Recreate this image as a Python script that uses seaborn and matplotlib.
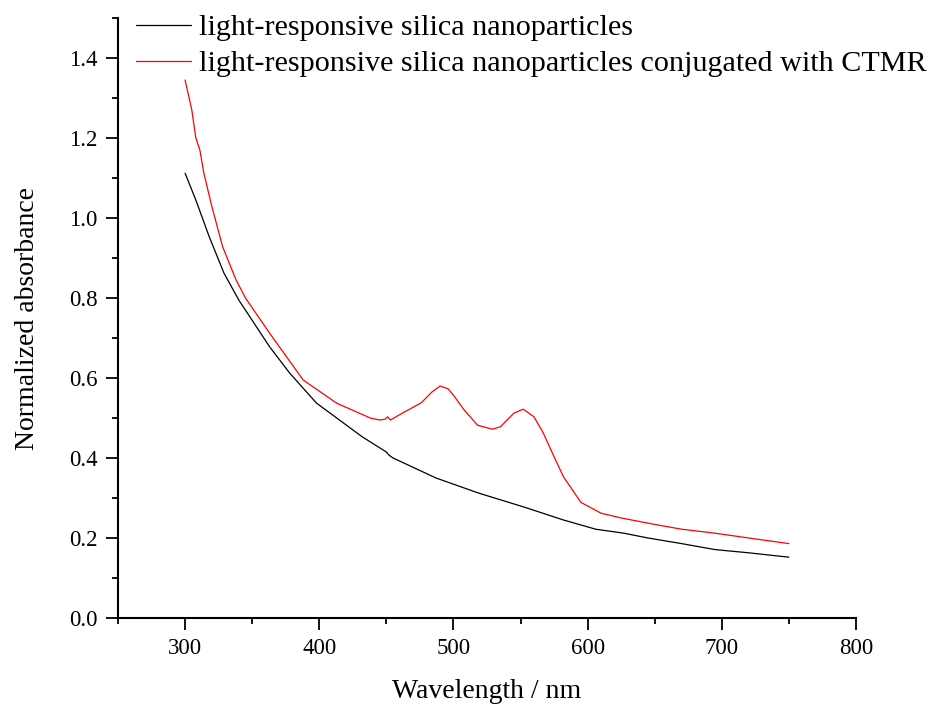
## absorbance spectra of silica nanoparticles, with and without CTMR
import pandas as pd
import numpy as np
import matplotlib
matplotlib.use('Agg')
import matplotlib.pyplot as plt
import seaborn as sns
from matplotlib.ticker import MultipleLocator, FormatStrFormatter

## values
wl_plain = [300, 308, 318, 329, 340, 363, 378, 398, 413, 432, 450, 452, 455,
            487, 519, 552, 582, 606, 627, 645, 670, 695, 720, 750]
abs_plain = [1.112, 1.045, 0.953, 0.862, 0.795, 0.678, 0.612, 0.537, 0.500, 0.453, 0.415, 0.407, 0.400,
             0.350, 0.312, 0.278, 0.245, 0.222, 0.212, 0.200, 0.186, 0.171, 0.163, 0.152]

wl_ctmr = [300, 303, 305, 308, 311, 314, 317, 320, 328, 338, 345, 363, 388, 413, 438, 445,
           449, 451, 453, 464, 476, 484, 490, 496, 500, 508, 518, 529, 535, 545, 552,
           560, 567, 575, 582, 595, 610, 625, 650, 670, 695, 720, 750]
abs_ctmr = [1.345, 1.300, 1.270, 1.200, 1.170, 1.112, 1.070, 1.028, 0.928, 0.845, 0.800, 0.712, 0.595, 0.537, 0.500, 0.495,
            0.497, 0.503, 0.495, 0.516, 0.538, 0.565, 0.580, 0.573, 0.557, 0.520, 0.482, 0.472, 0.478, 0.512, 0.522,
            0.503, 0.462, 0.403, 0.353, 0.289, 0.262, 0.250, 0.234, 0.222, 0.212, 0.200, 0.186]

label_plain = "light-responsive silica nanoparticles"
label_ctmr = "light-responsive silica nanoparticles conjugated with CTMR"

## long form table for seaborn
df = pd.concat([
    pd.DataFrame({'Wavelength': wl_plain, 'Absorbance': abs_plain, 'Sample': label_plain}),
    pd.DataFrame({'Wavelength': wl_ctmr, 'Absorbance': abs_ctmr, 'Sample': label_ctmr}),
], ignore_index=True)

sns.set_theme(style="ticks")
plt.rcParams['font.family'] = ['Liberation Serif', 'DejaVu Serif']
plt.rcParams['text.color'] = 'black'
plt.rcParams['axes.labelcolor'] = 'black'
plt.rcParams['xtick.color'] = 'black'
plt.rcParams['ytick.color'] = 'black'
plt.rcParams['axes.edgecolor'] = 'black'

fig = plt.figure(figsize=(9.32, 7.06), dpi=100)
ax = fig.add_axes([118/932, 1 - 618/706, (856-118)/932, 600/706])

sns.lineplot(data=df, x='Wavelength', y='Absorbance', hue='Sample', sort=False,
             palette={label_plain: 'black', label_ctmr: 'red'}, linewidth=0.9,
             estimator=None, ax=ax, legend=False)

ax.set_xlim(250, 800)
ax.set_ylim(0, 1.5)
ax.xaxis.set_minor_locator(MultipleLocator(50))
ax.yaxis.set_major_locator(MultipleLocator(0.2))
ax.yaxis.set_minor_locator(MultipleLocator(0.1))
ax.yaxis.set_major_formatter(FormatStrFormatter('%.1f'))

# no label at 250, Origin style axis starts there
ax.set_xticks([300, 400, 500, 600, 700, 800])

sns.despine(ax=ax)
for s in ['left', 'bottom']:
    ax.spines[s].set_linewidth(1.5)
ax.tick_params(which='major', length=8.5, width=1.3, labelsize=16.5, pad=6, direction='out')
ax.tick_params(which='minor', length=4.5, width=1.3, direction='out')

ax.set_xlabel('Wavelength / nm', fontsize=20, labelpad=14)
ax.set_ylabel('Normalized absorbance', fontsize=20, labelpad=21)

handles = [plt.Line2D([], [], color='black', linewidth=0.9),
           plt.Line2D([], [], color='red', linewidth=0.9)]
fig.legend(handles, [label_plain, label_ctmr], loc='upper left',
           bbox_to_anchor=(136/932, 1 - 14/706), frameon=False, fontsize=21.7,
           borderpad=0, borderaxespad=0, handlelength=1.82, handletextpad=0.27,
           labelspacing=0.3)

fig.savefig('out.png', dpi=100)
